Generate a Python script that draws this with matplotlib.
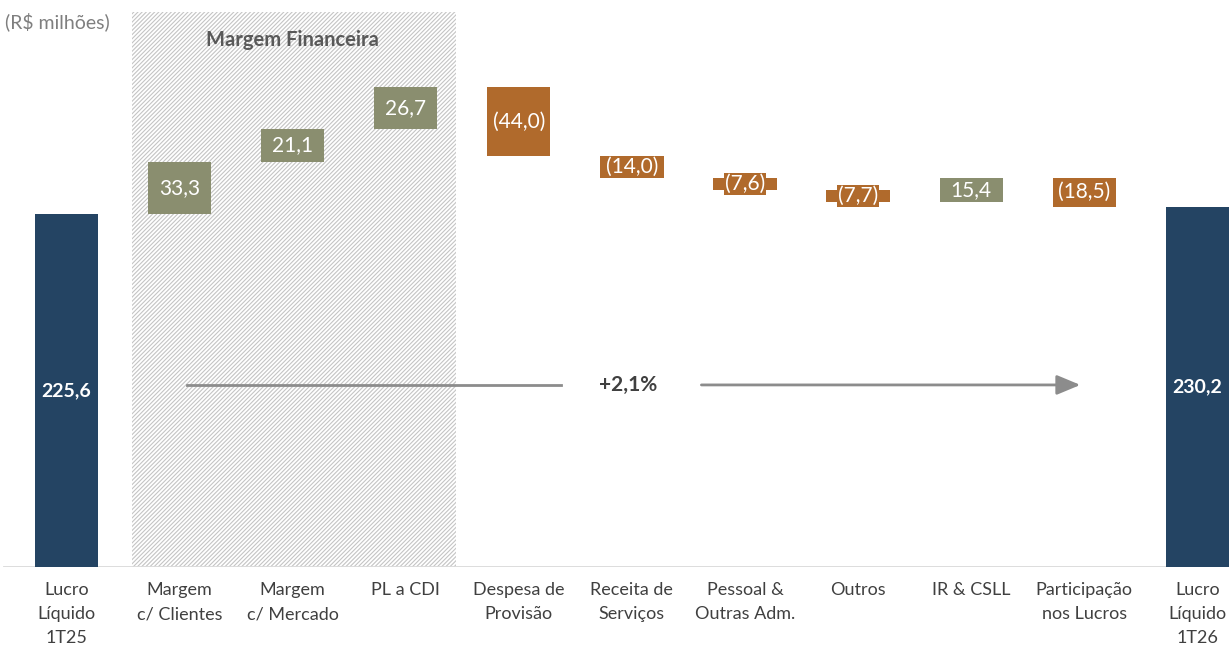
import matplotlib
matplotlib.use("Agg")
import matplotlib.pyplot as plt
from matplotlib.patches import Rectangle

plt.rcParams['font.family'] = ['Lato', 'DejaVu Sans']
plt.rcParams['hatch.linewidth'] = 0.8

# dados do gráfico (R$ milhões)
categorias = ["Lucro\nLíquido\n1T25", "Margem\nc/ Clientes", "Margem\nc/ Mercado", "PL a CDI",
              "Despesa de\nProvisão", "Receita de\nServiços", "Pessoal &\nOutras Adm.", "Outros",
              "IR & CSLL", "Participação\nnos Lucros", "Lucro\nLíquido\n1T26"]
valores = [225.6, 33.3, 21.1, 26.7, -44.0, -14.0, -7.6, -7.7, 15.4, -18.5, 230.2]
tipos = ["total", "delta", "delta", "delta", "delta", "delta", "delta", "delta", "delta", "delta", "total"]
variacao = "+2,1%"

AZUL = "#244463"
VERDE = "#8a8e6f"
LARANJA = "#b06a2c"


def fmt(v):
    s = f"{abs(v):.1f}".replace(".", ",")
    return f"({s})" if v < 0 else s


fig = plt.figure(figsize=(12.29, 6.46), dpi=100)
ax = fig.add_axes([0, 79 / 646, 1, 567 / 646])
ax.set_xlim(-0.588, 10.28)
ax.set_ylim(0, 362.5)

# área hachurada da margem financeira
ax.add_patch(Rectangle((0.579, 0), 3.44 - 0.579, 354.9, fill=False, hatch="////////",
                       edgecolor="#c4c4c4", linewidth=0, zorder=0))
ax.text(2.0, 337, "Margem Financeira", ha="center", va="center", fontsize=14.5,
        fontweight="bold", color="#595959")

acum = 0
for i, (v, t) in enumerate(zip(valores, tipos)):
    if t == "total":
        ax.bar(i, v, width=0.56, color=AZUL, zorder=2)
        ax.text(i, v / 2, fmt(v), ha="center", va="center", color="white",
                fontsize=14, fontweight="bold", zorder=4)
        acum = v
    else:
        cor = VERDE if v > 0 else LARANJA
        base = acum if v > 0 else acum + v
        ax.bar(i, abs(v), bottom=base, width=0.56, color=cor, zorder=2)
        ax.text(i, base + abs(v) / 2, fmt(v), ha="center", va="center", color="white",
                fontsize=15, zorder=4,
                bbox=dict(boxstyle="square,pad=0.05", facecolor=cor, edgecolor="none"))
        acum += v

# seta de variação
y_seta = 116.4
ax.plot([1.07, 4.37], [y_seta, y_seta], color="#8c8c8c", lw=2, zorder=3)
ax.text(4.97, y_seta, variacao, ha="center", va="center", fontsize=15,
        fontweight="bold", color="#404040")
ax.annotate("", xy=(8.99, y_seta), xytext=(5.59, y_seta),
            arrowprops=dict(arrowstyle="-|>,head_length=0.6,head_width=0.25",
                            color="#8c8c8c", lw=2, mutation_scale=24))

ax.axhline(0, xmin=0.003, color="#d9d9d9", lw=2, zorder=1)

ax.set_xticks(range(len(categorias)))
ax.set_xticklabels(categorias, fontsize=13, color="#404040", linespacing=1.6)
ax.tick_params(axis="x", length=0, pad=11)
ax.set_yticks([])
for s in ax.spines.values():
    s.set_visible(False)

fig.text(0.004, 1 - 22 / 646, "(R$ milhões)", ha="left", va="center", fontsize=14,
         color="#7f7f7f")

fig.savefig("out.png", dpi=100)
